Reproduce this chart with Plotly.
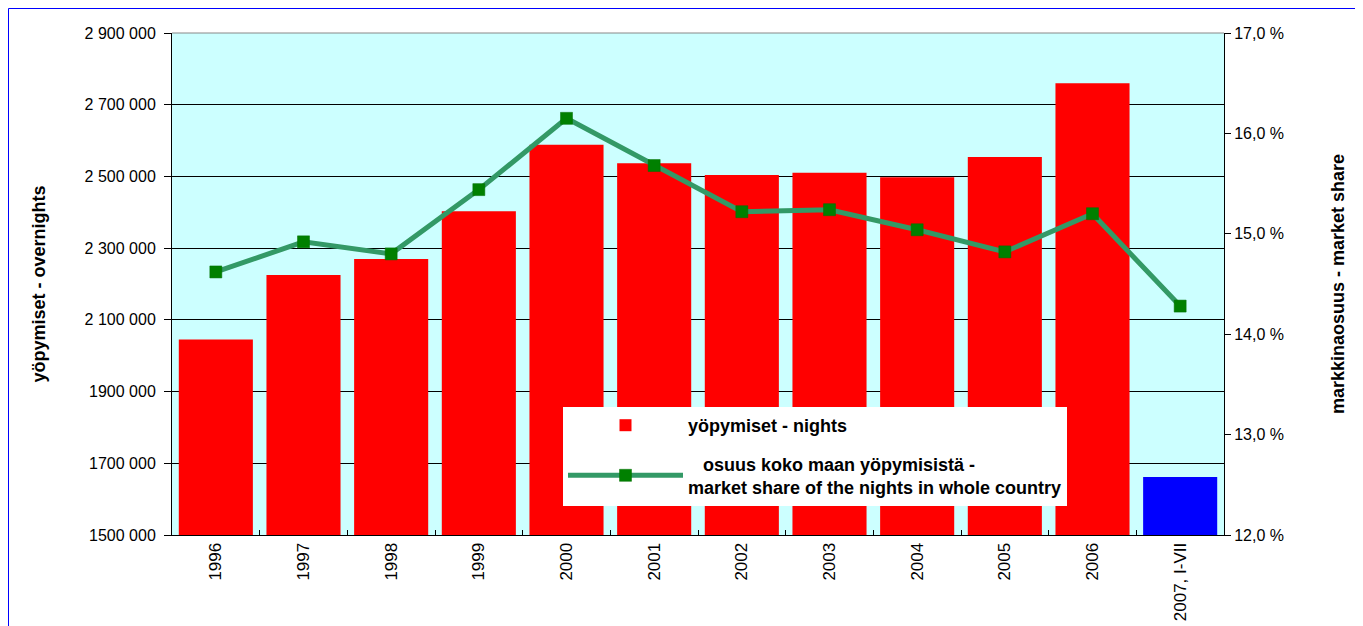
import plotly.graph_objects as go

categories = ["1996", "1997", "1998", "1999", "2000", "2001", "2002", "2003",
              "2004", "2005", "2006", "2007, I-VII"]
nights = [2045000, 2225000, 2270000, 2403000, 2588000, 2537000, 2504000,
          2510000, 2498000, 2554000, 2760000, 1662000]
market_share = [14.62, 14.92, 14.80, 15.44, 16.15, 15.68, 15.22, 15.24,
                15.04, 14.82, 15.20, 14.28]
left_ticks = [1500000, 1700000, 1900000, 2100000, 2300000, 2500000, 2700000, 2900000]
left_ticktext = ["1500 000", "1700 000", "1900 000", "2 100 000", "2 300 000",
                 "2 500 000", "2 700 000", "2 900 000"]
right_ticks = [12, 13, 14, 15, 16, 17]
right_ticktext = ["12,0 %", "13,0 %", "14,0 %", "15,0 %", "16,0 %", "17,0 %"]

bar_colors = ["#FF0000"] * (len(categories) - 1) + ["#0000FF"]

FONT = "Liberation Sans, Arial, sans-serif"
# page has an 8px body margin: figure coordinates = page coordinates - 8
W, H = 1355, 618
L, R, T, B = 164, 1216, 25, 527

fig = go.Figure()
fig.add_trace(go.Bar(
    x=categories, y=nights, name="yöpymiset - nights",
    legendgroup="a",
    marker=dict(color=bar_colors, line=dict(width=0)),
    yaxis="y",
))
fig.add_trace(go.Scatter(
    x=categories, y=market_share,
    name="   osuus koko maan yöpymisistä -<br>market share of the nights in whole country",
    legendgroup="b",
    mode="lines+markers",
    line=dict(color="#339966", width=5),
    marker=dict(symbol="square", size=12, color="#008000",
                line=dict(color="#007000", width=0.5)),
    yaxis="y2",
))

def px2x(px):
    return (px - L) / (R - L)

def py2y(py):
    return (B - py) / (B - T)

fig.update_layout(
    width=W, height=H,
    margin=dict(l=L, r=W - R, t=T, b=H - B, autoexpand=False),
    paper_bgcolor="white",
    plot_bgcolor="#CCFFFF",
    bargap=0.155,
    font=dict(family=FONT, size=16, color="black"),
    showlegend=True,
    legend=dict(
        x=px2x(555), y=py2y(399), xanchor="left", yanchor="top",
        bgcolor="white", borderwidth=0,
        font=dict(family=FONT, size=18, color="black", weight="bold"),
        itemwidth=115, tracegroupgap=12, traceorder="grouped",
    ),
    xaxis=dict(
        type="category", tickangle=-90, automargin=False,
        tickfont=dict(family=FONT, size=17),
        ticks="inside", ticklen=5, tickcolor="black", tickson="boundaries",
        showline=True, linecolor="black", linewidth=1,
        showgrid=False,
        range=[-0.5, len(categories) - 0.5],
    ),
    yaxis=dict(
        range=[1500000, 2900000], automargin=False,
        tickvals=left_ticks, ticktext=left_ticktext,
        tickfont=dict(family=FONT, size=16),
        ticks="outside", ticklen=7, tickcolor="black", ticklabelstandoff=5,
        showline=True, linecolor="black", linewidth=1,
        showgrid=True, gridcolor="black", gridwidth=1,
        zeroline=False,
        title=dict(text="yöpymiset - overnights",
                   font=dict(family=FONT, size=18, weight="bold"), standoff=34),
    ),
    yaxis2=dict(
        overlaying="y", side="right", automargin=False,
        range=[12, 17],
        tickvals=right_ticks, ticktext=right_ticktext,
        tickfont=dict(family=FONT, size=16),
        ticks="outside", ticklen=6, tickcolor="black",
        showline=True, linecolor="black", linewidth=1,
        showgrid=False, zeroline=False,
        title=dict(text="markkinaosuus - market share",
                   font=dict(family=FONT, size=18, weight="bold"), standoff=48),
    ),
    shapes=[
        dict(type="line", xref="paper", yref="paper", x0=0, x1=1, y0=1, y1=1,
             line=dict(color="#888888", width=1), layer="above"),
        dict(type="rect", xref="paper", yref="paper",
             x0=px2x(0.5), x1=px2x(1349), y0=py2y(640), y1=py2y(0.5),
             line=dict(color="#0000FF", width=1), layer="below"),
    ],
)

fig.write_html("out.html")
